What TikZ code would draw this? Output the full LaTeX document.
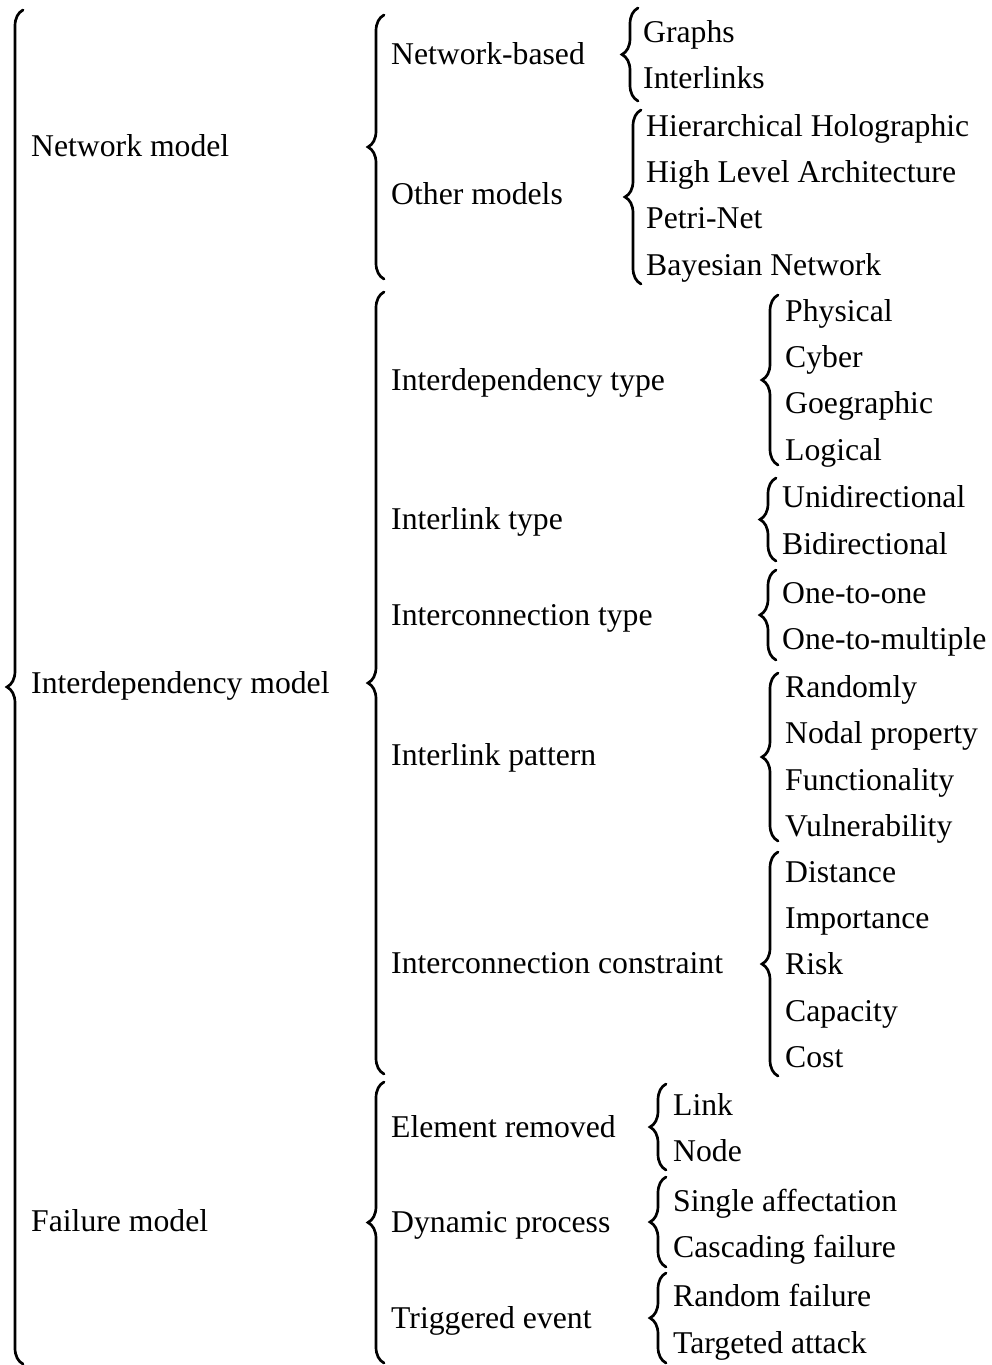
\documentclass[tikz,border=0pt]{standalone}
\usepackage{fontspec}
\setmainfont{Liberation Serif}
\usetikzlibrary{decorations.pathreplacing}
\tikzset{
  lbl/.style={anchor=base west, inner sep=0pt, font=\fontsize{31.7}{38}\selectfont},
  curly/.style={decorate, decoration={brace, amplitude=16pt}, line width=2.7pt, line cap=round}
}
\begin{document}
\begin{tikzpicture}[x=1pt, y=-1pt]
\useasboundingbox (0,0) rectangle (992,1365);

% ---- top level ----
\node[lbl] (net)   at (31,156)  {Network model};
\node[lbl] (inter) at (31,693)  {Interdependency model};
\node[lbl] (fail)  at (31,1231) {Failure model};

% ---- second level ----
\node[lbl] (nb)   at (391,64)   {Network-based};
\node[lbl] (om)   at (391,204)  {Other models};
\node[lbl] (idt)  at (391,390)  {Interdependency type};
\node[lbl] (ilt)  at (391,529)  {Interlink type};
\node[lbl] (ict)  at (391,625)  {Interconnection type};
\node[lbl] (ilp)  at (391,765)  {Interlink pattern};
\node[lbl] (icc)  at (391,973)  {Interconnection constraint};
\node[lbl] (er)   at (391,1137) {Element removed};
\node[lbl] (dp)   at (391,1232) {Dynamic process};
\node[lbl] (te)   at (391,1328) {Triggered event};

% ---- leaves ----
\node[lbl] (gr)  at (643,42)  {Graphs};
\node[lbl] (il)  at (643,88)  {Interlinks};
\node[lbl] (hh)  at (646,136) {Hierarchical Holographic};
\node[lbl] (hla) at (646,182) {High Level Architecture};
\node[lbl] (pn)  at (646,228) {Petri-Net};
\node[lbl] (bn)  at (646,275) {Bayesian Network};

\node[lbl] (ph)  at (785,321) {Physical};
\node[lbl] (cy)  at (785,367) {Cyber};
\node[lbl] (ge)  at (785,413) {Goegraphic};
\node[lbl] (lo)  at (785,460) {Logical};

\node[lbl] (uni) at (782,507) {Unidirectional};
\node[lbl] (bi)  at (782,554) {Bidirectional};
\node[lbl] (o2o) at (782,603) {One-to-one};
\node[lbl] (o2m) at (782,649) {One-to-multiple};

\node[lbl] (ra)  at (785,697)  {Randomly};
\node[lbl] (np)  at (785,743)  {Nodal property};
\node[lbl] (fu)  at (785,790)  {Functionality};
\node[lbl] (vu)  at (785,836)  {Vulnerability};

\node[lbl] (di)  at (785,882)  {Distance};
\node[lbl] (im)  at (785,928)  {Importance};
\node[lbl] (ri)  at (785,974)  {Risk};
\node[lbl] (ca)  at (785,1021) {Capacity};
\node[lbl] (co)  at (785,1067) {Cost};

\node[lbl] (lk)  at (673,1115) {Link};
\node[lbl] (nd)  at (673,1161) {Node};
\node[lbl] (sa)  at (673,1211) {Single affectation};
\node[lbl] (cf)  at (673,1257) {Cascading failure};
\node[lbl] (rf)  at (673,1306) {Random failure};
\node[lbl] (ta)  at (673,1353) {Targeted attack};

% ---- brace end points ----
\coordinate (root-t) at (23,10);   \coordinate (root-b) at (23,1364);
\coordinate (net-t)  at (384,15);  \coordinate (net-b)  at (384,279);
\coordinate (inter-t) at (384,292); \coordinate (inter-b) at (384,1074);
\coordinate (fail-t) at (384,1082); \coordinate (fail-b) at (384,1363);

\coordinate (nb-t)  at (638,8);    \coordinate (nb-b)  at (638,101);
\coordinate (om-t)  at (641,110);  \coordinate (om-b)  at (641,284);
\coordinate (idt-t) at (778,295);  \coordinate (idt-b) at (778,465);
\coordinate (ilt-t) at (776,478);  \coordinate (ilt-b) at (776,561);
\coordinate (ict-t) at (776,570);  \coordinate (ict-b) at (776,660);
\coordinate (ilp-t) at (778,673);  \coordinate (ilp-b) at (778,841);
\coordinate (icc-t) at (778,852);  \coordinate (icc-b) at (778,1076);
\coordinate (er-t)  at (666,1084); \coordinate (er-b)  at (666,1170);
\coordinate (dp-t)  at (666,1177); \coordinate (dp-b)  at (666,1267);
\coordinate (te-t)  at (666,1273); \coordinate (te-b)  at (666,1363);

% ---- braces (drawn upward so the tip points left) ----
\draw[curly] (root-b) -- (root-t);
\draw[curly] (net-b) -- (net-t);
\draw[curly] (inter-b) -- (inter-t);
\draw[curly] (fail-b) -- (fail-t);
\draw[curly] (nb-b) -- (nb-t);
\draw[curly] (om-b) -- (om-t);
\draw[curly] (idt-b) -- (idt-t);
\draw[curly] (ilt-b) -- (ilt-t);
\draw[curly] (ict-b) -- (ict-t);
\draw[curly] (ilp-b) -- (ilp-t);
\draw[curly] (icc-b) -- (icc-t);
\draw[curly] (er-b) -- (er-t);
\draw[curly] (dp-b) -- (dp-t);
\draw[curly] (te-b) -- (te-t);
\end{tikzpicture}
\end{document}
